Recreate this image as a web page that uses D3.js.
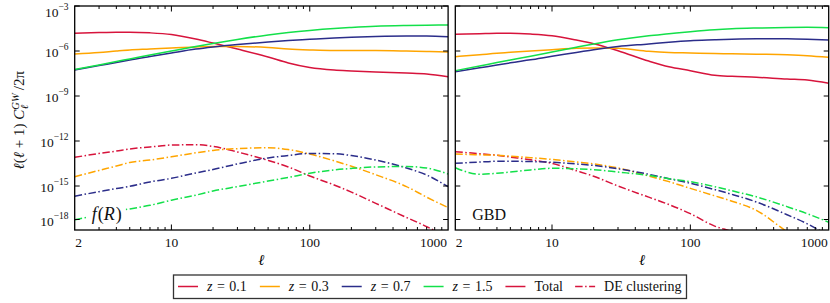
<!DOCTYPE html>
<html>
<head>
<meta charset="utf-8">
<script src="https://cdn.jsdelivr.net/npm/d3@7"></script>
<style>
  body { margin: 0; background: #fff; }
  svg { display: block; font-family: "Liberation Serif", "Times New Roman", serif; }
</style>
</head>
<body>
<div id="container"></div>
<script>
/* CONSTANTS */
const width = 830,
  height = 303;

// multipoles ell
const ells = [2, 3, 4, 5, 7, 10, 15, 20, 30, 50, 70, 100, 150, 200, 300, 500, 700, 1000];

// log10 of l(l+1) C_l^GW / 2pi
// f(R) panel, total
const frTotalZ01 = [-4.82, -4.77, -4.75, -4.75, -4.79, -4.90, -5.20, -5.47, -5.87, -6.40, -6.80, -7.10, -7.27, -7.33, -7.40, -7.47, -7.53, -7.71];
const frTotalZ03 = [-6.20, -6.10, -6.00, -5.93, -5.87, -5.80, -5.73, -5.70, -5.70, -5.77, -5.87, -5.93, -5.97, -5.97, -5.97, -6.00, -6.03, -6.07];
const frTotalZ07 = [-7.27, -6.97, -6.77, -6.60, -6.37, -6.13, -5.87, -5.73, -5.57, -5.40, -5.30, -5.22, -5.13, -5.08, -5.03, -5.00, -5.00, -5.05];
const frTotalZ15 = [-7.23, -6.93, -6.70, -6.53, -6.27, -6.00, -5.70, -5.50, -5.23, -4.93, -4.77, -4.63, -4.50, -4.43, -4.35, -4.30, -4.28, -4.27];
// f(R) panel, DE clustering
const frDeZ01 = [-13.09, -12.83, -12.67, -12.53, -12.40, -12.27, -12.25, -12.36, -12.73, -13.29, -13.73, -14.33, -14.93, -15.55, -16.55, -17.82, -18.64, -19.64];
const frDeZ03 = [-14.38, -13.96, -13.67, -13.43, -13.27, -13.05, -12.79, -12.63, -12.51, -12.45, -12.57, -12.87, -13.32, -13.68, -14.25, -15.05, -16.00, -16.94];
const frDeZ07 = [-15.91, -15.51, -15.23, -15.03, -14.73, -14.49, -14.13, -13.90, -13.53, -13.13, -12.97, -12.83, -12.85, -12.97, -13.27, -13.80, -14.27, -15.06];
const frDeZ15 = [-18.03, -17.59, -17.27, -17.05, -16.73, -16.27, -15.82, -15.45, -15.05, -14.67, -14.43, -14.15, -13.93, -13.83, -13.73, -13.70, -13.80, -14.20];
// GBD panel, total
const gbdTotalZ01 = [-4.89, -4.85, -4.82, -4.82, -4.87, -4.98, -5.27, -5.51, -5.98, -6.67, -7.05, -7.31, -7.62, -7.69, -7.75, -7.87, -7.93, -8.15];
const gbdTotalZ03 = [-6.38, -6.25, -6.15, -6.09, -6.00, -5.91, -5.82, -5.80, -5.82, -6.02, -6.10, -6.13, -6.17, -6.18, -6.21, -6.25, -6.31, -6.42];
const gbdTotalZ07 = [-7.38, -7.12, -6.94, -6.79, -6.59, -6.35, -6.10, -5.91, -5.70, -5.53, -5.41, -5.31, -5.25, -5.21, -5.18, -5.19, -5.22, -5.27];
const gbdTotalZ15 = [-7.31, -7.00, -6.77, -6.60, -6.35, -6.07, -5.75, -5.53, -5.25, -4.98, -4.85, -4.71, -4.58, -4.52, -4.47, -4.43, -4.42, -4.45];
// GBD panel, DE clustering
const gbdDeZ01 = [-12.71, -12.85, -12.95, -13.07, -13.25, -13.49, -13.98, -14.35, -15.00, -16.00, -16.66, -17.48, -18.60, -19.10, -20.10, -21.40, -22.20, -23.00];
const gbdDeZ03 = [-12.87, -12.92, -12.95, -13.01, -13.11, -13.23, -13.40, -13.53, -13.80, -14.33, -14.71, -15.21, -15.88, -16.36, -17.18, -19.10, -20.20, -21.50];
const gbdDeZ07 = [-13.49, -13.40, -13.35, -13.35, -13.37, -13.42, -13.53, -13.63, -13.85, -14.22, -14.51, -14.82, -15.32, -15.75, -16.43, -17.57, -18.39, -19.45];
const gbdDeZ15 = [-13.78, -14.22, -14.15, -14.07, -13.93, -13.82, -13.85, -13.91, -14.07, -14.29, -14.51, -14.71, -15.06, -15.43, -15.97, -16.85, -17.48, -18.25];

const redshifts = ["0.1", "0.3", "0.7", "1.5"];
const colors = ["#d7143c", "#ffa500", "#2b2d8a", "#13e04a"];

const xTickValues = [2, 10, 100, 1000];
const yTickExponents = [-3, -6, -9, -12, -15, -18];

const panels = [
  { name: "f(R)", total: [frTotalZ01, frTotalZ03, frTotalZ07, frTotalZ15], de: [frDeZ01, frDeZ03, frDeZ07, frDeZ15] },
  { name: "GBD", total: [gbdTotalZ01, gbdTotalZ03, gbdTotalZ07, gbdTotalZ15], de: [gbdDeZ01, gbdDeZ03, gbdDeZ07, gbdDeZ15] }
];

const panelLeft = [74.7, 455.3],
  panelWidth = 373.4,
  plotTop = 6,
  plotBottom = 230;
const dashDot = "7.5,2.5,1.5,2.5";

const svg = d3.select("#container")
  .append("svg")
  .attr("width", width)
  .attr("height", height);

// the y axis is not evenly spaced at the very bottom, so use a piecewise log scale
const yScale = d3.scaleLog()
  .domain([1e-3, 1e-15, 1e-18, Math.pow(10, -18.95)])
  .range([plotTop, 186, 219.5, plotBottom]);

panels.forEach((p, i) => {
  const x0 = panelLeft[i];
  const xScale = d3.scaleLog()
    .domain([2, 1000])
    .range([x0, x0 + panelWidth]);

  const g = svg.append("g");

  svg.append("clipPath")
    .attr("id", "clip" + i)
    .append("rect")
    .attr("x", x0).attr("y", plotTop)
    .attr("width", panelWidth).attr("height", plotBottom - plotTop);

  const line = d3.line()
    .x(d => xScale(d[0]))
    .y(d => yScale(Math.pow(10, d[1])))
    .curve(d3.curveMonotoneX);

  const plot = g.append("g").attr("clip-path", `url(#clip${i})`);

  const seriesData = [];
  p.total.forEach((vals, k) => seriesData.push({ color: colors[k], dash: null, pts: ells.map((l, j) => [l, vals[j]]) }));
  p.de.forEach((vals, k) => seriesData.push({ color: colors[k], dash: dashDot, pts: ells.map((l, j) => [l, vals[j]]) }));

  plot.selectAll("path.series")
    .data(seriesData)
    .join("path")
    .attr("class", "series")
    .attr("fill", "none")
    .attr("stroke", d => d.color)
    .attr("stroke-width", 1.5)
    .attr("stroke-dasharray", d => d.dash)
    .attr("d", d => line(d.pts));

  // panel label with white box
  const lab = g.append("text")
    .attr("x", x0 + 17)
    .attr("y", 219.5)
    .style("font-size", p.name === "f(R)" ? "18px" : "16px")
    .attr("fill", "#111");
  if (p.name === "f(R)") {
    lab.append("tspan").style("font-style", "italic").text("f");
    lab.append("tspan").attr("dx", 1).text("(");
    lab.append("tspan").style("font-style", "italic").text("R");
    lab.append("tspan").attr("dx", 1).text(")");
  } else {
    lab.text(p.name);
  }
  const bb = lab.node().getBBox();
  g.insert("rect", "text")
    .attr("x", bb.x - 4).attr("y", bb.y - 2)
    .attr("width", bb.width + 8).attr("height", bb.height + 2)
    .attr("fill", "#fff");

  // x ticks: major and minor, inward, top and bottom
  const minor = [];
  [1, 10, 100].forEach(dec => d3.range(2, 10).forEach(m => {
    const v = m * dec;
    if (v > 2 && v < 1000 && v !== 10 && v !== 100) minor.push(v);
  }));
  const ticks = g.append("g").attr("stroke", "#000").attr("stroke-width", 1);
  minor.forEach(v => {
    ticks.append("line").attr("x1", xScale(v)).attr("x2", xScale(v)).attr("y1", plotBottom).attr("y2", plotBottom - 3);
    ticks.append("line").attr("x1", xScale(v)).attr("x2", xScale(v)).attr("y1", plotTop).attr("y2", plotTop + 3);
  });
  [10, 100].forEach(v => {
    ticks.append("line").attr("x1", xScale(v)).attr("x2", xScale(v)).attr("y1", plotBottom).attr("y2", plotBottom - 5.5);
    ticks.append("line").attr("x1", xScale(v)).attr("x2", xScale(v)).attr("y1", plotTop).attr("y2", plotTop + 5.5);
  });
  yTickExponents.forEach(e => {
    const yy = yScale(Math.pow(10, e));
    ticks.append("line").attr("x1", x0).attr("x2", x0 + 5).attr("y1", yy).attr("y2", yy);
    ticks.append("line").attr("x1", x0 + panelWidth).attr("x2", x0 + panelWidth - 5).attr("y1", yy).attr("y2", yy);
  });

  // frame
  g.append("rect")
    .attr("x", x0).attr("y", plotTop)
    .attr("width", panelWidth).attr("height", plotBottom - plotTop)
    .attr("fill", "none")
    .attr("stroke", "#000")
    .attr("stroke-width", 1.3);

  // x tick labels
  g.selectAll("text.xt")
    .data(xTickValues)
    .join("text")
    .attr("class", "xt")
    .attr("x", d => d === 2 ? xScale(d) + 0.5 : d === 1000 ? xScale(d) - 1 : xScale(d))
    .attr("y", 246.5)
    .attr("text-anchor", d => d === 2 ? "start" : d === 1000 ? "end" : "middle")
    .style("font-size", "13.5px")
    .attr("fill", "#111")
    .text(d => d);

  // x axis label
  g.append("text")
    .attr("x", x0 + panelWidth / 2)
    .attr("y", 265)
    .attr("text-anchor", "middle")
    .style("font-size", "15px")
    .style("font-style", "italic")
    .text("ℓ");

  // y tick labels only on the left panel
  if (i === 0) {
    yTickExponents.forEach(e => {
      const t = g.append("text")
        .attr("x", 68.5)
        .attr("y", Math.max(yScale(Math.pow(10, e)) + 6, 16.5))
        .attr("text-anchor", "end")
        .style("font-size", "13.5px")
        .attr("fill", "#111");
      t.append("tspan").text("10");
      t.append("tspan").attr("dy", -7).style("font-size", "9.5px").text("−" + Math.abs(e));
    });
  }
});

// y axis label, centred by measuring it
const ylab = svg.append("text")
  .attr("transform", "translate(24,120) rotate(-90)")
  .style("font-size", "15px")
  .attr("fill", "#111");
ylab.append("tspan").style("font-style", "italic").text("ℓ");
ylab.append("tspan").text("(");
ylab.append("tspan").style("font-style", "italic").text("ℓ");
ylab.append("tspan").text(" + 1) ");
ylab.append("tspan").style("font-style", "italic").text("C");
ylab.append("tspan").attr("dy", -5.5).style("font-size", "10.5px").style("font-style", "italic").text("GW");
ylab.append("tspan").attr("dx", -16).attr("dy", 9.5).style("font-size", "10.5px").style("font-style", "italic").text("ℓ");
ylab.append("tspan").attr("dx", 11).attr("dy", -4).text(" /2π");
const ylb = ylab.node().getBBox();
ylab.attr("x", -(ylb.x + ylb.width / 2));

// legend
const legendItems = [
  { z: redshifts[0], color: colors[0], dash: null },
  { z: redshifts[1], color: colors[1], dash: null },
  { z: redshifts[2], color: colors[2], dash: null },
  { z: redshifts[3], color: colors[3], dash: null },
  { label: "Total", color: colors[0], dash: null },
  { label: "DE clustering", color: colors[0], dash: dashDot }
];
const legend = svg.append("g");
let lx = 178;
const ly = 286.5;
legendItems.forEach(item => {
  legend.append("line")
    .attr("x1", lx).attr("x2", lx + 20)
    .attr("y1", ly).attr("y2", ly)
    .attr("stroke", item.color)
    .attr("stroke-width", 1.5)
    .attr("stroke-dasharray", item.dash);
  const t = legend.append("text")
    .attr("x", lx + 29)
    .attr("y", ly + 4.5)
    .style("font-size", "14px")
    .attr("fill", "#111");
  if (item.z) {
    t.append("tspan").style("font-style", "italic").text("z");
    t.append("tspan").attr("dx", 4.5).text("=");
    t.append("tspan").attr("dx", 4.5).text(item.z);
  } else {
    t.text(item.label);
  }
  lx = lx + 29 + t.node().getBBox().width + 12;
});
legend.insert("rect", "line")
  .attr("x", 173.5).attr("y", 275)
  .attr("width", lx - 12 + 5 - 173.5).attr("height", 23.5)
  .attr("fill", "#fff")
  .attr("stroke", "#333")
  .attr("stroke-width", 1.3);
</script>
</body>
</html>
